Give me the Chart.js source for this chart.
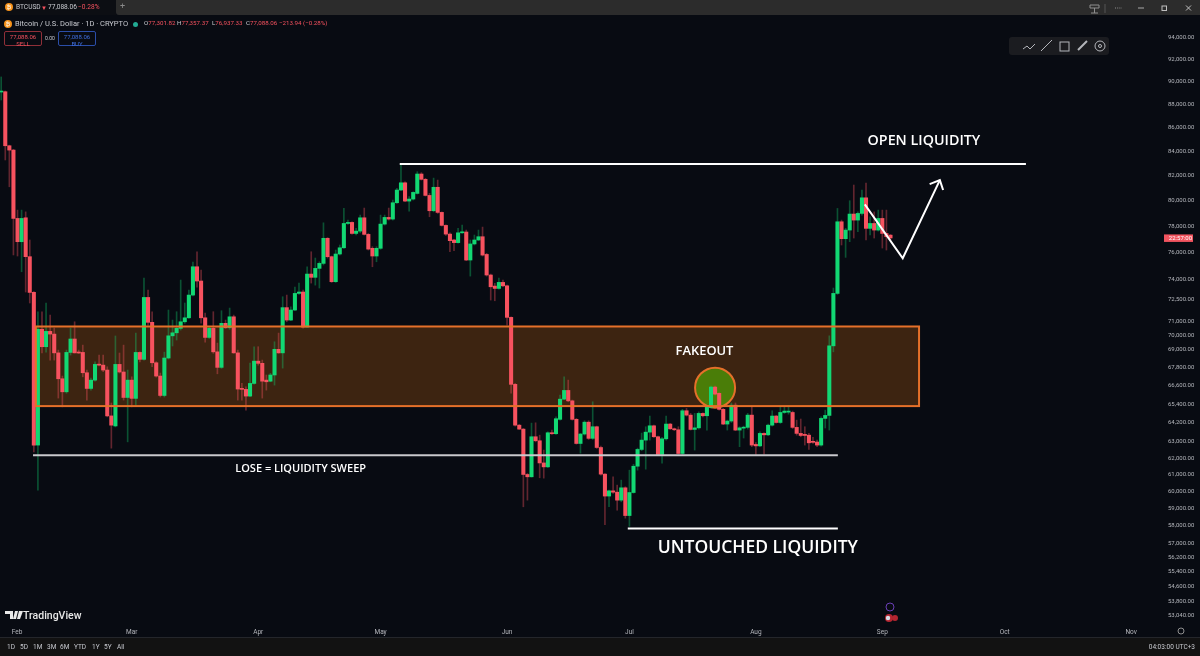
<!DOCTYPE html>
<html>
<head>
<meta charset="utf-8">
<title>BTCUSD</title>
<script src="https://cdn.jsdelivr.net/npm/chart.js@4/dist/chart.umd.min.js"></script>
<style>
  html, body { margin: 0; padding: 0; background: #080b12; overflow: hidden; }
  #wrap { position: relative; width: 1200px; height: 656px; font-family: Roboto, sans-serif; color: #c8cad0; }
  #mycanvas { position: absolute; left: 0; top: 0; }
  .t { position: absolute; white-space: nowrap; font-size: 7px; line-height: 9px; }
  .red { color: #f7525f; }
  #topbar { position: absolute; left: 116px; right: 0; top: 0; height: 15px; background: #2c2c2c; border-bottom-left-radius: 3px; }
  #tab { position: absolute; left: 0; top: 0; width: 116px; height: 15px; background: #0c0e13; }
  #botbar { position: absolute; left: 0; right: 0; top: 637px; height: 19px; background: #121212; border-top: 1px solid #24262b; box-sizing: border-box; }
  #tools { position: absolute; left: 1009px; top: 37px; width: 100px; height: 18px; background: #1b1c20; border-radius: 3px; }
  .coin { position: absolute; width: 8px; height: 8px; border-radius: 50%; background: #f7931a; color: #fff; font-size: 6px; line-height: 8px; text-align: center; }
  .box { position: absolute; top: 31px; width: 38px; height: 15px; border-radius: 2px; box-sizing: border-box; text-align: center; font-size: 6px; line-height: 7px; padding-top: 1px; }
  svg { position: absolute; left: 0; top: 0; }
</style>
</head>
<body>
<div id="wrap">
  <canvas id="mycanvas" width="1200" height="656"></canvas>

  <div id="topbar"></div>
  <div id="tab"></div>
  <div class="coin" style="left:5px;top:3px">₿</div>
  <div class="t" style="left:16px;top:3px;font-size:6.6px">BTCUSD</div>
  <div class="t red" style="left:41px;top:3px;font-size:6px">▼</div>
  <div class="t" style="left:48px;top:3px;font-size:6.6px">77,088.06</div>
  <div class="t red" style="left:78px;top:3px;font-size:6.6px">−0.28%</div>
  <div class="t" style="left:120px;top:2px;font-size:9px;color:#8a8a8a">+</div>

  <div class="coin" style="left:4px;top:20px">₿</div>
  <div class="t" style="left:15px;top:19px;font-size:7.5px">Bitcoin / U.S. Dollar · 1D · CRYPTO</div>
  <div style="position:absolute;left:133px;top:22px;width:5px;height:5px;border-radius:50%;background:#22ab94"></div>
  <div class="t" style="left:144px;top:19px;font-size:6.2px">O<span class="red">77,301.82</span></div>
  <div class="t" style="left:177px;top:19px;font-size:6.2px">H<span class="red">77,357.37</span></div>
  <div class="t" style="left:212px;top:19px;font-size:6.2px">L<span class="red">76,937.33</span></div>
  <div class="t" style="left:246px;top:19px;font-size:6.2px">C<span class="red">77,088.06</span></div>
  <div class="t red" style="left:279px;top:19px;font-size:6.2px">−213.94 (−0.28%)</div>

  <div class="box red" style="left:4px;border:1px solid #8f2f38">77,088.06<br>SELL</div>
  <div class="t" style="left:45px;top:34px;font-size:5px">0.00</div>
  <div class="box" style="left:58px;border:1px solid #2b4ea8;color:#3f6fe0">77,088.06<br>BUY</div>

  <div id="tools"></div>
  <svg width="1200" height="656" fill="none" stroke="#b4b6bb" stroke-width="1">
    <!-- floating drawing toolbar -->
    <path d="M1023 49l4-3 3 3 5-5"/><path d="M1041 51l11-11"/>
    <rect x="1060" y="42" width="9" height="9"/><path d="M1078 50l9-9" stroke-width="2"/>
    <circle cx="1100" cy="46" r="5"/><circle cx="1100" cy="46" r="1.5"/>
    <!-- window buttons -->
    <path d="M1090 5h9v3h-9zM1094.5 8v5M1091 13h7" stroke="#8f8f8f"/>
    <path d="M1105 4v9" stroke="#555"/>
    <path d="M1115 8h7" stroke="#8f8f8f" stroke-dasharray="1 1.2"/>
    <path d="M1138 8h6" stroke="#a8a8a8"/>
    <rect x="1162" y="6" width="4.5" height="4.5" stroke="#c0c0c0"/>
    <path d="M1186 5.5l5 5M1191 5.5l-5 5" stroke="#c0c0c0"/>
    <!-- logo -->
    <path d="M5 611h8v8h-3v-5H5zM15 611h3l-2 8h-3zM19 611h4l-3 8h-3z" fill="#e8e8e8" stroke="none"/>
    <!-- chart events -->
    <circle cx="890" cy="607" r="4" stroke="#6a3fb5"/>
    <circle cx="889" cy="618" r="4" fill="#b32530" stroke="none"/>
    <circle cx="895" cy="618" r="3" fill="#b32530" stroke="none"/>
    <circle cx="888" cy="618" r="2.2" fill="#d8dde8" stroke="none"/>
    <!-- axis settings and calendar -->
    <circle cx="1181" cy="631" r="3" stroke="#8f8f8f"/>
    <rect x="137" y="643" width="8" height="8" stroke="#8f8f8f"/>
    <path d="M129.5 641v12" stroke="#333"/>
  </svg>

  <div class="t" style="left:23px;top:609px;font-size:10.5px;line-height:13px;color:#e8e8e8;font-weight:500">TradingView</div>

  <div id="botbar"></div>
  <div class="t" style="left:7px;top:643px;font-size:6.5px">1D</div>
  <div class="t" style="left:20px;top:643px;font-size:6.5px">5D</div>
  <div class="t" style="left:33px;top:643px;font-size:6.5px">1M</div>
  <div class="t" style="left:47px;top:643px;font-size:6.5px">3M</div>
  <div class="t" style="left:60px;top:643px;font-size:6.5px">6M</div>
  <div class="t" style="left:74px;top:643px;font-size:6.5px">YTD</div>
  <div class="t" style="left:92px;top:643px;font-size:6.5px">1Y</div>
  <div class="t" style="left:104px;top:643px;font-size:6.5px">5Y</div>
  <div class="t" style="left:117px;top:643px;font-size:6.5px">All</div>
  <div class="t" style="right:5px;top:643px;font-size:6.5px">04:03:00 UTC+3</div>
</div>

<script>
// one row per ten daily candles
var opens = [
  89060,89090,84450,84090,78590,76800,78640,75670,73040,62800,
  70420,69220,70280,70090,68800,67060,66200,68830,69750,68830,
  68830,67460,66420,66970,68020,67970,67640,64640,64000,68020,
  67510,65830,66970,65770,68830,68360,72680,70910,68130,67240,
  65960,68450,69970,70180,70490,70950,71230,72850,74920,73870,
  71230,69860,70490,68870,67820,70840,70530,71300,68800,66400,
  66360,65920,66750,68240,68090,66970,66900,67310,69040,68800,
  71950,71070,71780,72970,73070,70580,74380,74140,74800,75170,
  77060,75670,73820,75870,76340,78200,78280,77430,77610,78640,
  77360,76300,75720,76300,78150,78670,78540,79820,80830,81410,
  79950,80110,80560,82120,81690,80400,79190,81050,79060,78050,
  77380,76930,76730,77480,77540,75420,76630,76930,77180,75840,
  74310,73500,73330,73770,73520,71260,66690,64050,63800,61000,
  60860,63320,63070,61700,61460,63570,63510,64420,65720,66290,
  65610,64420,62900,63490,64240,63220,63950,62650,61020,59710,
  60020,59940,59470,60200,58570,59920,61500,62530,63110,63610,
  64010,63320,62220,63190,64120,63820,63760,62280,64970,64690,
  63780,63880,64800,64650,65190,66510,66100,65060,64120,64310,
  65330,63740,63860,63910,64690,62840,62750,63530,63440,64050,
  64630,64220,64860,64880,64860,63910,63530,63470,63420,63030,
  62990,62800,64480,64670,69280,72970,78330,77030,77690,78930,
  78460,78980,80210,77820,78200,77690,78590,77430,77301
];
var highs = [
  90400,89150,84500,84150,79240,79240,79100,76930,73100,71660,
  71660,72280,71420,70510,68990,67240,68990,70510,70950,68990,
  69330,67640,67100,68200,68650,68650,67860,65470,69960,68790,
  69330,67640,67190,70160,68870,74090,73210,71660,68200,67440,
  68850,71780,71070,71660,73940,72280,73210,75270,76040,74680,
  71570,70600,71660,69470,71730,71070,71920,71420,68990,66750,
  66530,68110,69220,69220,68310,67310,67420,69560,70160,72730,
  72850,72010,73430,73720,73210,74920,76040,75570,75290,78250,
  77110,75720,76170,76550,79370,78460,78330,77820,78850,79400,
  77430,76420,76420,78850,78850,79400,80030,80970,82860,81490,
  80300,80690,82310,82230,81770,80560,81790,81630,79100,78100,
  77480,76980,77820,78070,77690,76930,77310,77690,77920,75920,
  74380,73700,74090,73940,73570,71300,66750,64100,63840,61060,
  64180,64200,63420,62490,63630,63740,64580,65990,67190,66970,
  65660,64480,63530,64330,64330,65550,63990,62740,61060,60060,
  60860,60360,60660,60260,61260,61620,62610,63550,63950,64630,
  64050,63360,63280,64630,64160,63870,63950,65060,65120,64800,
  64800,64900,64840,65270,66580,66580,66130,65120,64370,65470,
  65470,63950,63990,64800,65220,62950,63630,63570,64120,64970,
  64670,65220,65220,65270,64950,64370,64440,63950,63530,63280,
  63110,64580,65010,69970,73360,79370,78460,77820,79980,81230,
  79100,80830,81390,78720,79100,79240,79240,79240,77357
];
var lows = [
  88360,83270,81090,75800,75720,74550,73070,72280,62380,60060,
  68790,68850,68310,68310,65790,65220,66110,68650,68790,68760,
  67190,65660,66310,66900,67910,67530,64580,62610,63940,67440,
  65660,63000,65220,65330,68180,68310,70720,67860,67170,65860,
  65860,68380,69270,69680,70370,70840,71190,72780,73430,70860,
  69540,69790,68770,67390,67750,70490,70420,68770,65660,65660,
  65010,65880,66710,67970,65790,66310,66860,66640,68770,67770,
  70950,71020,71730,72900,70510,70580,73720,73570,73360,75050,
  75570,73770,73770,75790,76300,78120,77380,77310,77480,77310,
  76170,74920,75290,76220,78070,78460,78460,79770,80770,79900,
  79160,80030,80510,81630,80350,78720,79100,78980,78000,77280,
  76040,76120,76680,77430,75370,74230,76550,76880,75720,74230,
  72490,72440,73280,73450,70720,66110,63990,63780,59080,59470,
  60840,63000,60800,60780,61420,63470,63470,64370,65680,65550,
  64370,62860,62300,63420,63150,63150,62590,60960,58050,59080,
  59860,58880,59370,58420,57950,59880,61260,62450,61320,63110,
  63280,62180,61680,63110,63780,63700,62240,62220,64630,63740,
  62490,63800,64580,63740,65160,66000,65010,64080,63740,64220,
  63700,62700,63240,63800,62700,62220,62700,62240,63380,63990,
  64180,64160,64800,64750,63840,63420,63320,62800,62530,62900,
  62700,62740,63870,63740,68870,72900,76550,75620,76800,77080,
  77560,78850,76930,77310,77080,77610,76320,76170,76937
];
var closes = [
  89150,84450,84090,78590,76800,78590,75670,73040,62800,70420,
  69220,70280,70090,68800,67060,66200,68830,69750,68800,68790,
  67460,66420,66970,68020,67970,67640,64640,64050,68020,67510,
  65830,66970,65770,68830,68360,72680,70910,68130,67240,65960,
  68450,69970,70180,70490,70950,71230,72850,74920,73870,71230,
  69860,70490,68870,67820,70840,70530,71300,68800,66380,66360,
  65920,66750,68240,68090,66900,66860,67310,69040,68800,71950,
  71070,71780,72970,73070,70580,74380,74140,74800,75170,77060,
  75670,73820,75870,76340,78200,78280,77430,77610,78640,77360,
  76240,75720,76300,78150,78670,78540,79820,80830,81410,79950,
  80110,80640,82120,81690,80400,79190,81050,79060,78050,77380,
  76880,76730,77480,77540,75420,76630,76930,77180,75790,74310,
  73450,73330,73770,73520,71260,66690,64050,63800,61000,60860,
  63320,63070,61700,61460,63570,63510,64460,65720,66290,65610,
  64420,62900,63490,64240,63220,63950,62650,61020,59710,60020,
  59940,59470,60200,58570,59920,61500,62530,63110,63610,64010,
  63320,62220,63190,64120,63820,63760,62280,64970,64690,63780,
  63880,64800,64650,65190,66510,66050,65060,64120,64310,65330,
  63740,63880,63910,64690,62800,62750,63530,63440,64050,64630,
  64220,64860,64950,64950,63910,63530,63400,63400,62940,62970,
  62800,64480,64670,69280,72970,78330,77030,77690,78930,78460,
  78980,80210,77820,78200,77690,78590,77430,77180,77088
];

var priceTicks = [94000,92000,90000,88000,86000,84000,82000,80000,78000,76000,74000,72500,71000,70000,69000,67800,66600,65400,64200,63000,62000,61000,60000,59000,58000,57000,56200,55400,54600,53800,53040];
var monthNames = ['Feb','Mar','Apr','May','Jun','Jul','Aug','Sep','Oct','Nov'];
var monthBars = [3.9,32,63,93,124,154,185,216,246,277];

// drawn levels and shapes, x in bars, y in price
var openLiquidityBars = [97.7, 251.2], openLiquidityPrice = 82940;
var sweepBars = [7.8, 205.1], sweepPrice = 62170;
var untouchedBars = [153.6, 205.1], untouchedPrice = 57830;
var zoneBars = [8.5, 225], zonePrices = [70620, 65270];
var arrowBars = [211.7, 221, 230.1], arrowPrices = [79690, 75550, 81630];
var arrowHeadBars = [227.6, 230.1, 230.9], arrowHeadPrices = [81300, 81630, 80830];
var fakeoutBar = 175, fakeoutPrice = 66470;
var notes = ['OPEN LIQUIDITY', 'FAKEOUT', 'LOSE = LIQUIDITY SWEEP', 'UNTOUCHED LIQUIDITY'];
var noteBars = [226.2, 172.4, 73.4, 185.5];
var notePrices = [84850, 68920, 61320, 56700];
var noteSizes = [14.3, 12.9, 11, 17.5];

var RED = '#f7525f', GREEN = '#12d873';

var bodies = [], wicks = [], bodyColors = [], wickColors = [];
for (var i = 0; i < opens.length; i++) {
  var up = closes[i] >= opens[i];
  bodies.push({x: i, y: [opens[i], closes[i]]});
  wicks.push({x: i, y: [lows[i], highs[i]]});
  bodyColors.push(up ? GREEN : RED);
  wickColors.push(up ? 'rgba(18,216,115,0.35)' : 'rgba(247,82,95,0.38)');
}

function level(bars, price, color) {
  return {
    type: 'line', order: 0, borderColor: color, borderWidth: 2, pointRadius: 0,
    data: [{x: bars[0], y: price}, {x: bars[1], y: price}]
  };
}
function path(bars, prices) {
  return {
    type: 'line', order: 0, borderColor: '#ffffff', borderWidth: 2, pointRadius: 0, tension: 0,
    data: bars.map(function(b, k) { return {x: b, y: prices[k]}; })
  };
}

// Chart.js adds the tick padding to the plot margins, drop that so the plot fills the page
function noMargins(scale) {
  scale.paddingLeft = scale.paddingRight = scale.paddingTop = scale.paddingBottom = 0;
}

// the orange zone, countdown pill and hand written notes
var drawings = {
  id: 'drawings',
  beforeDatasetsDraw: function(chart) {
    var x = chart.scales.x, y = chart.scales.y, c = chart.ctx;
    c.save();
    c.fillStyle = '#3d2411';
    c.fillRect(x.getPixelForValue(zoneBars[0]), y.getPixelForValue(zonePrices[0]),
      x.getPixelForValue(zoneBars[1]) - x.getPixelForValue(zoneBars[0]),
      y.getPixelForValue(zonePrices[1]) - y.getPixelForValue(zonePrices[0]));
    c.restore();
  },
  afterDatasetsDraw: function(chart) {
    var x = chart.scales.x, y = chart.scales.y, c = chart.ctx;
    c.save();
    c.strokeStyle = '#e5702a';
    c.lineWidth = 2;
    c.strokeRect(x.getPixelForValue(zoneBars[0]), y.getPixelForValue(zonePrices[0]),
      x.getPixelForValue(zoneBars[1]) - x.getPixelForValue(zoneBars[0]),
      y.getPixelForValue(zonePrices[1]) - y.getPixelForValue(zonePrices[0]));
    c.fillStyle = '#ffffff';
    c.textAlign = 'center';
    c.textBaseline = 'middle';
    notes.forEach(function(n, k) {
      c.font = '600 ' + noteSizes[k] + 'px "Open Sans"';
      c.fillText(n, x.getPixelForValue(noteBars[k]), y.getPixelForValue(notePrices[k]));
    });
    // price pill on the axis
    var py = y.getPixelForValue(closes[closes.length - 1]);
    c.fillStyle = '#f2545f';
    c.fillRect(1164, py - 3.5, 29, 7.5);
    c.fillStyle = '#ffffff';
    c.font = '6px Roboto';
    c.textAlign = 'right';
    c.fillText('22:57:00', 1192, py + 0.5);
    c.restore();
  }
};

var ctx = document.getElementById('mycanvas');

new Chart(ctx, {
  type: 'bar',
  data: {
    datasets: [
      {order: 3, type: 'bubble', data: [{x: fakeoutBar, y: fakeoutPrice, r: 20}], backgroundColor: '#4a7d08', borderColor: '#e5702a', borderWidth: 2},
      {order: 2, grouped: false, data: wicks, backgroundColor: wickColors, barThickness: 1, minBarLength: 1},
      {order: 1, grouped: false, data: bodies, backgroundColor: bodyColors, barThickness: 3.4, minBarLength: 1},
      level(openLiquidityBars, openLiquidityPrice, '#ffffff'),
      level(sweepBars, sweepPrice, '#c9c9cd'),
      level(untouchedBars, untouchedPrice, '#ffffff'),
      path(arrowBars, arrowPrices),
      path(arrowHeadBars, arrowHeadPrices)
    ]
  },
  options: {
    responsive: false,
    animation: false,
    layout: {autoPadding: false, padding: {top: 16, bottom: 19, left: 0, right: 0}},
    plugins: {legend: {display: false}, tooltip: {enabled: false}},
    scales: {
      x: {
        type: 'linear', offset: false,
        min: -0.294, max: 279.9,
        grid: {display: false}, border: {display: false},
        afterBuildTicks: function(scale) {
          scale.ticks = monthBars.map(function(b) { return {value: b}; });
        },
        afterFit: function(scale) { scale.height = 13; noMargins(scale); },
        ticks: {
          autoSkip: false, maxRotation: 0, padding: -4, color: '#b4b6bc',
          font: {family: 'Roboto', size: 6.5},
          callback: function(v) { return monthNames[monthBars.indexOf(v)]; }
        }
      },
      y: {
        type: 'logarithmic', position: 'right',
        min: 52610, max: 96020,
        grid: {display: false}, border: {display: false},
        afterBuildTicks: function(scale) {
          scale.ticks = priceTicks.map(function(v) { return {value: v}; });
        },
        afterFit: function(scale) { scale.width = 57; noMargins(scale); },
        ticks: {
          autoSkip: false, padding: 17, color: '#b4b6bc',
          font: {family: 'Roboto', size: 6},
          callback: function(v) {
            return Number(v).toLocaleString('en-US', {minimumFractionDigits: 2, maximumFractionDigits: 2});
          }
        }
      }
    }
  },
  plugins: [drawings]
});
</script>
</body>
</html>
